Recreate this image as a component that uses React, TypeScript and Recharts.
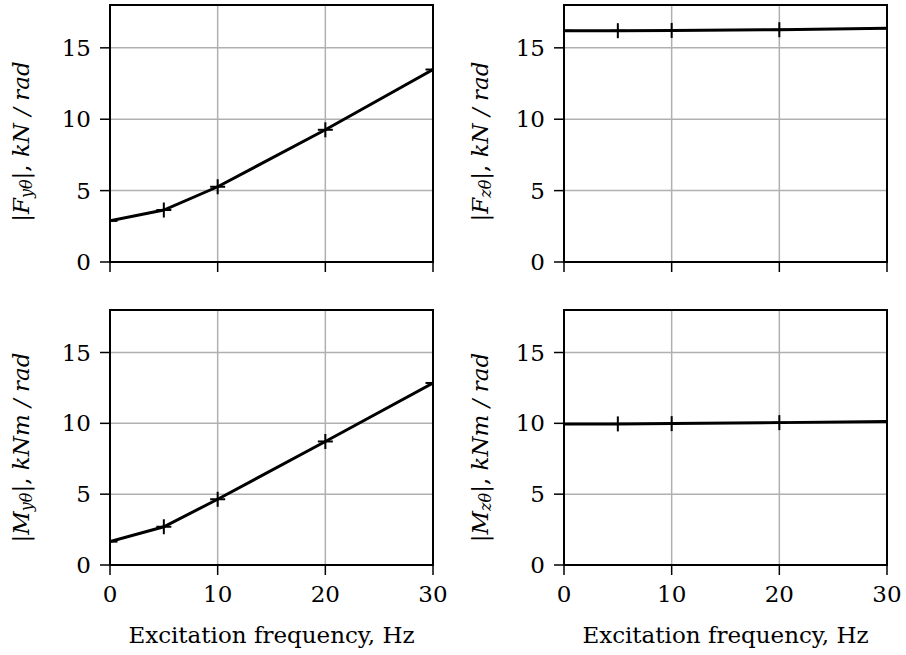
import React from "react";
import { LineChart, Line, XAxis, YAxis, CartesianGrid, ReferenceArea } from "recharts";

// excitation frequencies, Hz
const freqs = [0, 5, 10, 20, 30];
// stiffness magnitudes
const fyTheta = [2.88, 3.64, 5.27, 9.26, 13.48];
const fzTheta = [16.2, 16.2, 16.22, 16.27, 16.37];
const myTheta = [1.65, 2.7, 4.64, 8.72, 12.85];
const mzTheta = [9.95, 9.96, 9.98, 10.05, 10.13];

const xTicks = [0, 10, 20, 30];
const yTicks = [0, 5, 10, 15];
const xLabel = "Excitation frequency, Hz";

const FONT = "DejaVu Serif";
const FS = 23;

const toRows = (vals: number[]) => freqs.map((f, i) => ({ f, v: vals[i] }));

const Plus = (props: any) => {
  const { cx, cy } = props;
  if (cx == null || cy == null) return null;
  return (
    <g>
      <line x1={cx - 7.5} y1={cy} x2={cx + 7.5} y2={cy} stroke="#000" strokeWidth={2} />
      <line x1={cx} y1={cy - 7.5} x2={cx} y2={cy + 7.5} stroke="#000" strokeWidth={2} />
    </g>
  );
};

const YLabel = (props: any) => {
  const { viewBox, sym, sub, unit, cx, dy } = props;
  const cy = viewBox.y + viewBox.height / 2 + dy;
  return (
    <text
      x={cx}
      y={cy}
      transform={`rotate(-90 ${cx} ${cy})`}
      textAnchor="middle"
      dominantBaseline="central"
      fontFamily={FONT}
      fontSize={FS}
      fill="#000"
    >
      <tspan>|</tspan>
      <tspan fontStyle="italic">{sym}</tspan>
      <tspan fontStyle="italic" fontSize={16} dy={5}>
        {sub}
      </tspan>
      <tspan dy={-5}>|, </tspan>
      <tspan fontStyle="italic">{unit}</tspan>
    </text>
  );
};

const XLabel = (props: any) => {
  const { viewBox } = props;
  return (
    <text
      x={viewBox.x + viewBox.width / 2}
      y={viewBox.y + 78}
      textAnchor="middle"
      fontFamily={FONT}
      fontSize={FS}
      fill="#000"
    >
      {xLabel}
    </text>
  );
};

interface PanelProps {
  vals: number[];
  left: number;
  top: number;
  bottomRow: boolean;
  rightCol: boolean;
  sym: string;
  sub: string;
  unit: string;
}

const Panel = ({ vals, left, top, bottomRow, rightCol, sym, sub, unit }: PanelProps) => {
  const height = bottomRow ? 365 : 290;
  const tickStyle = { fill: "#000", fontSize: FS, fontFamily: FONT };
  return (
    <div style={{ position: "absolute", left, top }}>
      <LineChart
        width={453}
        height={height}
        data={toRows(vals)}
        margin={{ top: bottomRow ? 20 : 5, right: rightCol ? 19 : 20, left: rightCol ? 51 : 50, bottom: 0 }}
      >
        <CartesianGrid stroke="#b0b0b0" strokeWidth={1.5} />
        <XAxis
          dataKey="f"
          type="number"
          domain={[0, 30]}
          ticks={xTicks}
          allowDataOverflow
          height={bottomRow ? 90 : 28}
          tickSize={10}
          tickMargin={11}
          tick={tickStyle}
          tickFormatter={(t: number) => (bottomRow ? String(t) : "")}
          tickLine={{ stroke: "#000", strokeWidth: 1.5 }}
          axisLine={{ stroke: "#000", strokeWidth: 2 }}
          label={bottomRow ? <XLabel /> : undefined}
        />
        <YAxis
          type="number"
          domain={[0, 18]}
          ticks={yTicks}
          allowDataOverflow
          width={60}
          tickSize={10}
          tickMargin={9}
          tick={tickStyle}
          tickLine={{ stroke: "#000", strokeWidth: 1.5 }}
          axisLine={{ stroke: "#000", strokeWidth: 2 }}
          label={<YLabel sym={sym} sub={sub} unit={unit} cx={rightCol ? 27 : 21} dy={bottomRow ? 10 : 8} />}
        />
        <Line
          dataKey="v"
          type="linear"
          stroke="#000"
          strokeWidth={3}
          dot={<Plus />}
          activeDot={false}
          isAnimationActive={false}
        />
        <ReferenceArea
          x1={0}
          x2={30}
          y1={0}
          y2={18}
          fill="none"
          fillOpacity={0}
          stroke="#000"
          strokeWidth={2}
          ifOverflow="visible"
        />
      </LineChart>
    </div>
  );
};

export default function App() {
  return (
    <div style={{ position: "absolute", left: 0, top: 0, width: 906, height: 655, background: "#fff" }}>
      <Panel vals={fyTheta} left={0} top={0} bottomRow={false} rightCol={false} sym="F" sub="yθ" unit="kN / rad" />
      <Panel vals={fzTheta} left={453} top={0} bottomRow={false} rightCol={true} sym="F" sub="zθ" unit="kN / rad" />
      <Panel vals={myTheta} left={0} top={290} bottomRow={true} rightCol={false} sym="M" sub="yθ" unit="kNm / rad" />
      <Panel vals={mzTheta} left={453} top={290} bottomRow={true} rightCol={true} sym="M" sub="zθ" unit="kNm / rad" />
    </div>
  );
}
